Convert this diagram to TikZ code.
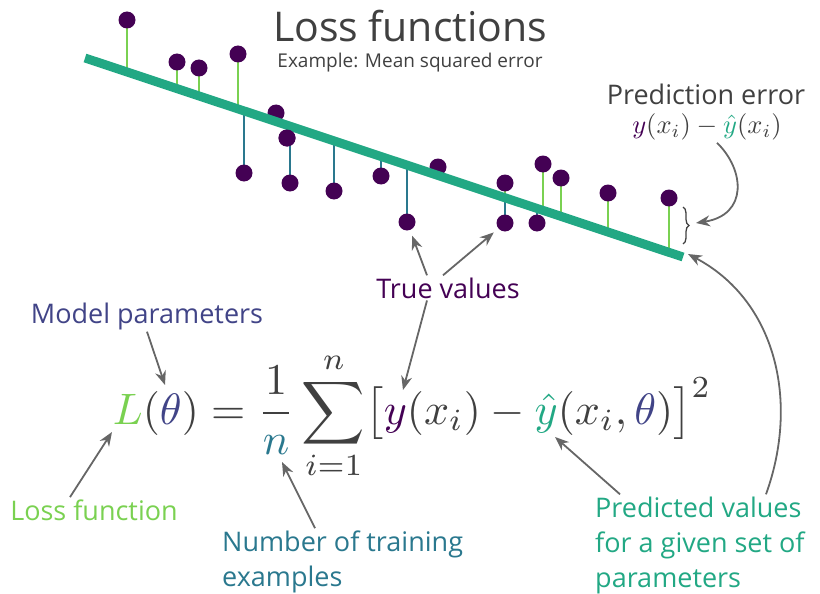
\documentclass[tikz,border=0pt]{standalone}
\usepackage{fontspec}
\setmainfont{Open Sans}
\usepackage{xcolor}
\definecolor{truePurple}{HTML}{440154}
\definecolor{lineGreen}{HTML}{22A884}
\definecolor{lossGreen}{HTML}{7AD151}
\definecolor{nTeal}{HTML}{2A788E}
\definecolor{paramBlue}{HTML}{414487}
\definecolor{arrowGray}{HTML}{666666}
\definecolor{textGray}{HTML}{404040}
\usepackage{tikz}
\usetikzlibrary{arrows.meta,decorations.pathreplacing}

\begin{document}
\begin{tikzpicture}[x=1pt, y=-1pt,
    dot/.style={circle, fill=truePurple, minimum size=17pt, inner sep=0pt},
    stem/.style={line width=1.6pt},
    pointer/.style={arrowGray, line width=1.8pt, -{Stealth[length=14pt, width=11pt]}},
    label/.style={font=\fontsize{27}{35}\selectfont, inner sep=2pt}]
  \useasboundingbox (0,0) rectangle (820,594);
  % ---- title ----
  \node[anchor=base, text=textGray, font=\fontsize{41}{48}\selectfont] (title) at (410,42) {Loss functions};
  \node[anchor=base, text=textGray, font=\fontsize{19}{23}\selectfont] (subtitle) at (410,68) {Example: Mean squared error};
  % ---- data and fitted line ----
  \coordinate (lineA) at (85,58);
  \coordinate (lineB) at (683,257);
  \foreach \x/\y [count=\i] in {127/20, 177/62, 199/68, 238/54, 276/113, 287/138, 244/173,
      290/183, 334/191, 381/176, 407/222, 438/167, 505/183, 505/223, 543/164, 561/178,
      537/223, 608/193, 669/198} {
    \pgfmathsetmacro\ly{58+199/598*(\x-85)}
    \ifdim\y pt<\ly pt \def\stemcol{lossGreen}\else\def\stemcol{nTeal}\fi
    \draw[stem, \stemcol] (\x,\y) -- (\x,\ly);
    \node[dot] (p\i) at (\x,\y) {};
  }
  \draw[lineGreen, line width=9pt] (lineA) -- (lineB);
  \node[dot] at (p6) {};
  % ---- prediction error ----
  \draw[textGray, line width=1.3pt, decorate, decoration={brace, amplitude=6pt}] (683,207) -- (683,244);
  \coordinate (braceTip) at (696,223);
  \node[anchor=base, text=textGray, label] (perr) at (706,104) {Prediction error};
  \node[scale=2.65, inner sep=0pt, text=textGray] (perrmath) at (707,127)
    {$\textcolor{truePurple}{y}(x_i)-\textcolor{lineGreen}{\hat{y}}(x_i)$};
  \draw[pointer] ([xshift=10pt, yshift=-2pt]perrmath.south) .. controls (745,170) and (748,215) .. (braceTip);
  % ---- formula ----
  \node[anchor=base west, inner sep=0pt, scale=4.4, text=textGray] (formula) at (112,424)
    {$\displaystyle \textcolor{lossGreen}{L}(\textcolor{paramBlue}{\theta})
      = \frac{1}{\textcolor{nTeal}{n}}\sum_{i=1}^{n}
      \bigl[\textcolor{truePurple}{y}(x_i)-\textcolor{lineGreen}{\hat{y}}(x_i,\textcolor{paramBlue}{\theta})\bigr]^2$};
  \coordinate (lossTip) at (112,432);
  \coordinate (thetaTip) at (165,385);
  \coordinate (nTip) at (282,462);
  \coordinate (yTip) at (403,390);
  \coordinate (yhatTip) at (555,437);
  % ---- labels ----
  \node[anchor=base, label, text=truePurple] (truev) at (448,298) {True values};
  \node[anchor=base, label, text=paramBlue] (modelp) at (147,323) {Model parameters};
  \node[anchor=base, label, text=lossGreen] (lossf) at (94,520) {Loss function};
  \node[anchor=base west, label, text=nTeal, align=left] (numtr) at (220,586) {Number of training\\examples};
  \node[anchor=base west, label, text=lineGreen, align=left] (predv) at (593,587)
    {Predicted values\\for a given set of\\parameters};
  % ---- pointers ----
  \draw[pointer, shorten >=6pt] ([xshift=-21pt]truev.north) -- (p11);
  \draw[pointer, shorten >=6pt] ([xshift=-5pt]truev.north) -- (p14);
  \draw[pointer] ([xshift=-21pt]truev.south) -- (yTip);
  \draw[pointer] (modelp.south) -- (thetaTip);
  \draw[pointer] ([xshift=-24pt]lossf.north) -- (lossTip);
  \draw[pointer] ([xshift=95pt]numtr.north west) -- (nTip);
  \draw[pointer] ([xshift=27pt]predv.north west) -- (yhatTip);
  \draw[pointer] ([xshift=173pt]predv.north west) .. controls (800,400) and (775,300) .. ([shift={(5pt,3pt)}]lineB);
\end{tikzpicture}
\end{document}
